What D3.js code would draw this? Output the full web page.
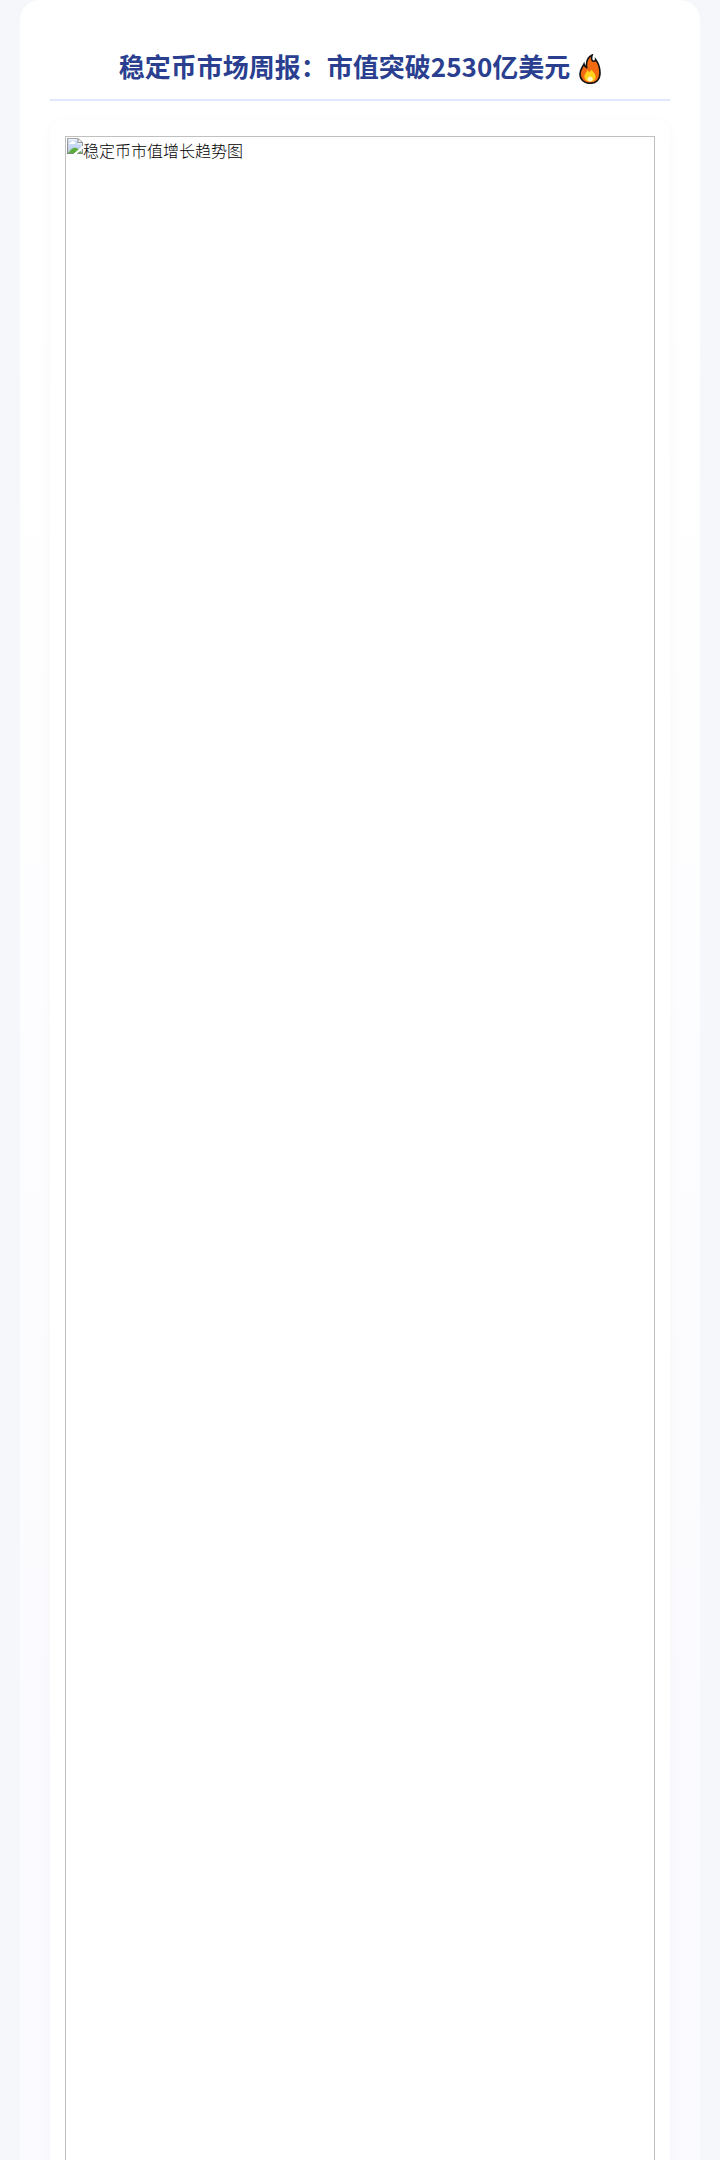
<html lang="zh-CN">
<head>
<meta charset="utf-8">
<title>稳定币市场周报</title>
<script src="https://cdn.jsdelivr.net/npm/d3@7"></script>
<style>
html, body { margin: 0; padding: 0; height: 2160px; overflow: hidden; background: #f5f7fb; font-family: "Noto Sans CJK SC", sans-serif; }
.container { position: relative; margin: 0 20px; height: 2200px; padding: 0 30px; box-sizing: border-box; background: linear-gradient(180deg, #ffffff 0%, #ffffff 15%, #fafaff 100%); border-radius: 20px; }
h1 { margin: 0; padding: 45px 0 13px; color: #2a3f8f; font-size: 26px; line-height: 41px; font-weight: 700; text-align: center; border-bottom: 2px solid #e0e8ff; }
h1 svg { vertical-align: -7px; margin-left: 3px; }
.card { margin-top: 19px; padding: 16px 15px; height: 2100px; box-sizing: border-box; background: #fff; border-radius: 16px; box-shadow: 0 4px 15px rgba(0,0,0,0.03); }
img { display: block; width: 590px; height: 2050px; font-size: 16px; font-weight: 300; color: #000; }
</style>
</head>
<body>
<div id="page"></div>
<script>
var titleText = ['稳定币市场周报：市值突破2530亿美元 '];
var chartImages = [{ src: 'stablecoin-growth.png', alt: '稳定币市值增长趋势图' }];
// flame emoji after the title, outermost layer first
var flameFills = ['#f26a12', '#ffd21f', '#fff6c8'];
var flamePaths = [
  'M11 29.3C5 29.3 1 25.5 1 20C1 15.5 3.6 13 5 10C5.5 12 6.2 13 7.6 13.6C7 8 8.5 3 13.2 1C11.8 5 13 7.6 15 7.2C16 7 16.6 6.4 16.6 5.4C19 8.5 21 13 21 19C21 25.5 17 29.3 11 29.3Z',
  'M11 27.6C7.4 27.6 5.4 25.4 5.4 22.6C5.4 20 7.4 18.6 8.6 16C9.4 17.4 10.2 18 11.2 17.8C11.2 17 11.6 16.4 12.2 15.8C14.6 18 16.6 20 16.6 22.8C16.6 25.6 14.6 27.6 11 27.6Z',
  'M11 27.4C9.2 27.4 8.4 26.4 8.4 25.2C8.4 24 9.6 23.4 10.4 22.2C11 23 11.6 23 12.2 22.8C13 23.6 13.8 24.2 13.8 25.4C13.8 26.6 12.6 27.4 11 27.4Z'
];

var container = d3.select('#page').append('div').attr('class', 'container');

var heading = container.selectAll('h1')
  .data(titleText)
  .enter()
  .append('h1')
  .text(function(d) { return d; });

var flame = heading.append('svg')
  .attr('width', 22)
  .attr('height', 30)
  .attr('viewBox', '0 0 22 30')
  .attr('role', 'img')
  .attr('aria-label', '🔥');

flame.selectAll('path')
  .data(flamePaths)
  .enter()
  .append('path')
  .attr('d', function(d) { return d; })
  .attr('fill', function(d, i) { return flameFills[i]; })
  .attr('stroke', function(d, i) { return i == 0 ? '#111' : 'none'; })
  .attr('stroke-width', 1.6);

var cards = container.selectAll('.card')
  .data(chartImages)
  .enter()
  .append('div')
  .attr('class', 'card');

// the picture file is missing, so the browser shows its alt text in an empty frame
cards.append('img')
  .attr('src', function(d) { return d.src; })
  .attr('alt', function(d) { return d.alt; });
</script>
</body>
</html>
